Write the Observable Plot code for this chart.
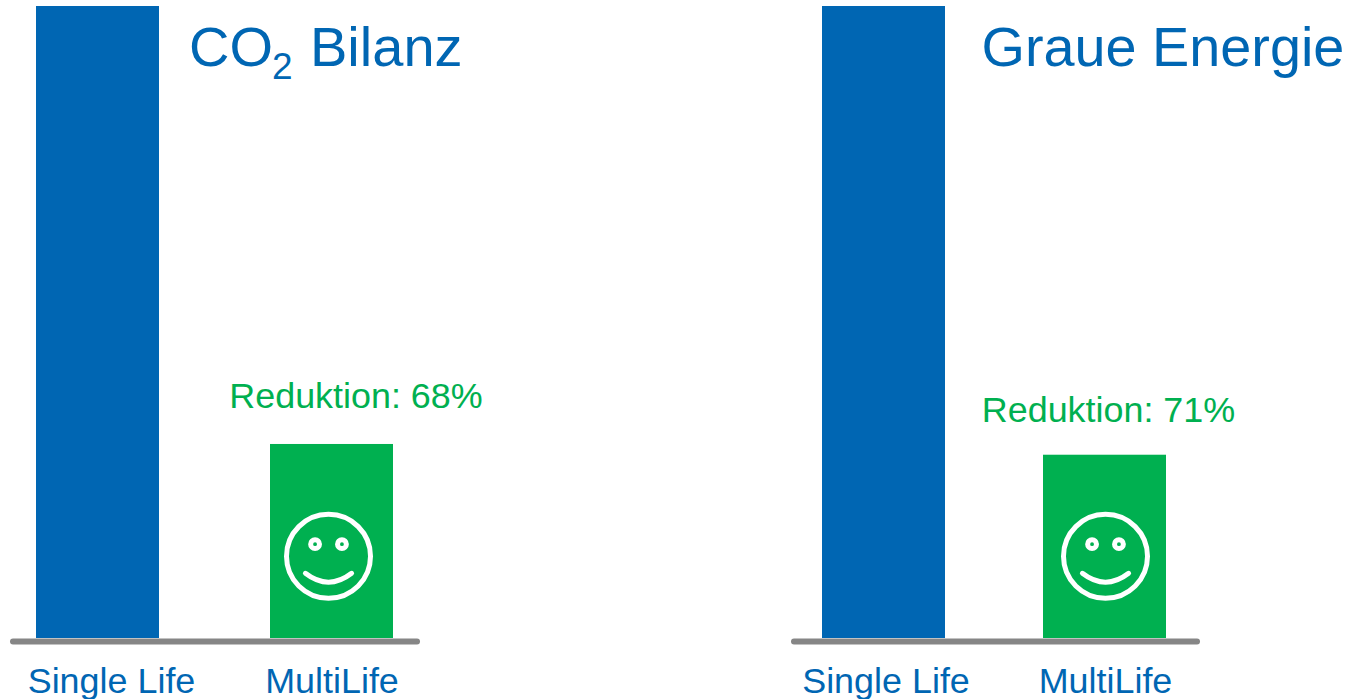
<!DOCTYPE html>
<html>
<head>
<meta charset="utf-8">
<script src="https://cdn.jsdelivr.net/npm/d3@7"></script>
<script src="https://cdn.jsdelivr.net/npm/@observablehq/plot@0.6"></script>
<style>
html,body{margin:0;padding:0;background:#fff;overflow:hidden}
#root{position:relative;width:1355px;height:699px}
#root svg{position:absolute;top:0;left:0}
</style>
</head>
<body>
<div id="root"></div>
<script>
const categories = ["Single Life", "MultiLife"];
const co2Values = [100, 30.7];
const energyValues = [100, 29];
const co2Title = "Bilanz";
const energyTitle = "Graue Energie";
const co2Note = "Reduktion: 68%";
const energyNote = "Reduktion: 71%";
const smileyLevel = 13;

const BLUE = "#0066b3", GREEN = "#00b050", GREY = "#868686";
const FONT = "Liberation Sans, Arial, sans-serif";

// Smiley drawn as a custom dot symbol so it stays anchored to the scales
const smiley = {
  draw(ctx, size) {
    const r = Math.sqrt(size / Math.PI);
    ctx.moveTo(r, 0); ctx.arc(0, 0, r, 0, 2 * Math.PI);
    const ex = r * 0.32, ey = -r * 0.29, er = r * 0.105;
    ctx.moveTo(-ex + er, ey); ctx.arc(-ex, ey, er, 0, 2 * Math.PI);
    ctx.moveTo(ex + er, ey); ctx.arc(ex, ey, er, 0, 2 * Math.PI);
    ctx.moveTo(-r * 0.55, r * 0.405);
    ctx.quadraticCurveTo(0, r * 0.83, r * 0.55, r * 0.405);
  }
};

function panel(o) {
  const rows = categories.map((c, i) => ({category: c, value: o.values[i]}));
  const multi = rows.slice(1);
  return Plot.plot({
    width: 1355, height: 699,
    marginTop: 6, marginBottom: 61, marginLeft: o.axisFrom + 3, marginRight: 1355 - o.axisTo + 3,
    x: {type: "band", domain: categories, range: o.barRange, paddingInner: o.inner, paddingOuter: 0, align: 0.5, round: false, axis: null},
    y: {domain: [0, 100], axis: null},
    style: {background: "transparent", fontFamily: FONT},
    marks: [
      Plot.barY(rows, {x: "category", y: "value", fill: (d, i) => i === 0 ? BLUE : GREEN}),
      Plot.ruleY([0], {stroke: GREY, strokeWidth: 6, strokeLinecap: "round", dy: 3}),
      Plot.dot(multi, {x: "category", y: () => smileyLevel, r: 42, dx: o.faceDx, symbol: smiley, stroke: "white", strokeWidth: 5, fill: "none", strokeLinecap: "round"}),
      Plot.text(multi, {x: "category", y: "value", text: () => o.note, fill: GREEN, fontSize: 35.9, dx: o.noteDx, dy: o.noteDy}),
      Plot.text(rows.slice(0, 1), {x: "category", text: "category", frameAnchor: "bottom", fill: BLUE, fontSize: 35.9, dx: o.labelDx, dy: 54}),
      Plot.text(multi, {x: "category", text: "category", frameAnchor: "bottom", fill: BLUE, fontSize: 35.9, dx: o.multiDx, dy: 54}),
      ...o.title
    ]
  });
}

function titleMark(text, x, y, size) {
  return Plot.text([text], {text: d => d, frameAnchor: "top-left", textAnchor: "start", lineAnchor: "middle", fill: BLUE, fontSize: size, dx: x, dy: y});
}

const root = document.getElementById("root");
root.append(panel({
  values: co2Values, note: co2Note, axisFrom: 10, axisTo: 420, barRange: [36, 393], inner: 111 / 234,
  faceDx: -3.5, noteDx: 24, noteDy: -48, labelDx: 13.5, multiDx: 0,
  title: [
    titleMark("CO", 175.5, 42, 56),
    titleMark("2", 258.5, 61, 37),
    titleMark(co2Title, 296.5, 42, 56)
  ]
}));
root.append(panel({
  values: energyValues, note: energyNote, axisFrom: 791, axisTo: 1200, barRange: [822, 1166], inner: 98 / 221,
  faceDx: 0.5, noteDx: 3.5, noteDy: -45, labelDx: 2, multiDx: 0.5,
  title: [titleMark(energyTitle, 187, 42, 55.8)]
}));
</script>
</body>
</html>
